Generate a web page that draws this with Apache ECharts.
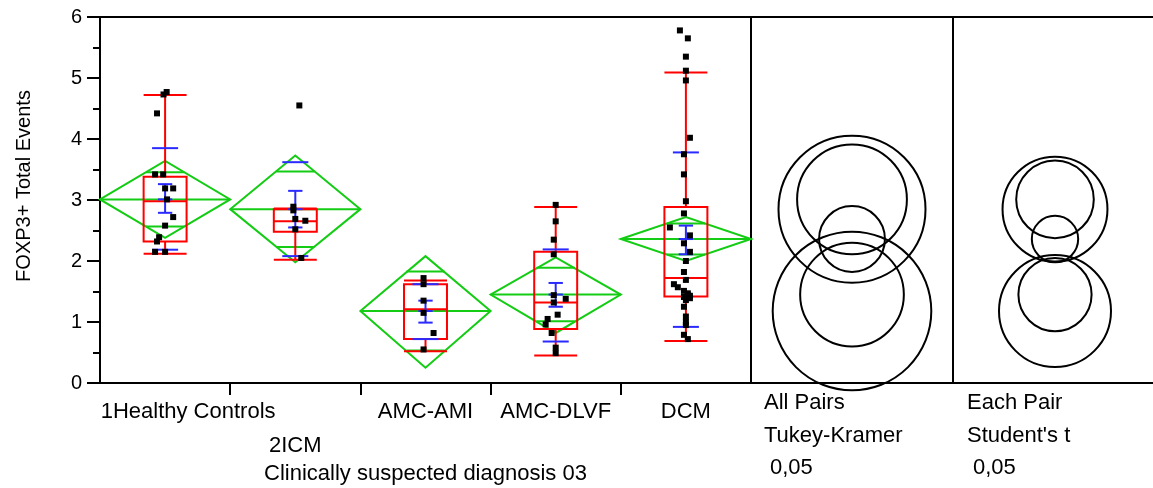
<!DOCTYPE html>
<html>
<head>
<meta charset="utf-8">
<script src="https://cdn.jsdelivr.net/npm/echarts@6/dist/echarts.min.js"></script>
<style>html,body{margin:0;padding:0;background:#fff;}#chart{width:1153px;height:488px;}</style>
</head>
<body>
<div id="chart"></div>
<script>
// ---------- data ----------
const categories = ['1Healthy Controls', '2ICM', 'AMC-AMI', 'AMC-DLVF', 'DCM'];
const yTicks = [0, 1, 2, 3, 4, 5, 6];

// quantile box plot
const whiskerLow  = [2.12, 2.02, 0.52, 0.45, 0.69];
const quartile1   = [2.32, 2.48, 0.72, 0.885, 1.42];
const medians     = [2.98, 2.65, 1.21, 1.32, 1.72];
const quartile3   = [3.38, 2.85, 1.62, 2.15, 2.885];
const whiskerHigh = [4.72, 2.86, 1.68, 2.885, 5.09];

// means diamonds (mean and 95% CI)
const means  = [3.01, 2.85, 1.18, 1.45, 2.36];
const ciLow  = [2.38, 1.98, 0.25, 0.82, 2.00];
const ciHigh = [3.64, 3.73, 2.08, 2.06, 2.72];

// std dev lines and mean error bars
const sdLow  = [2.185, 2.08, 0.72, 0.68, 0.92];
const sdHigh = [3.85, 3.62, 1.62, 2.19, 3.78];
const seLow  = [2.79, 2.55, 0.99, 1.25, 2.11];
const seHigh = [3.26, 3.15, 1.35, 1.64, 2.58];

// observations (value) and their jitter (category units)
const healthyValues = [4.77, 4.73, 4.42, 3.42, 3.42, 3.19, 3.19, 3.01, 2.72, 2.58, 2.39, 2.32, 2.15, 2.15];
const healthyJitter = [0.012, -0.012, -0.062, -0.077, -0.015, 0, 0.062, 0.015, 0.062, 0, -0.046, -0.062, -0.077, 0];
const icmValues = [4.55, 2.89, 2.83, 2.69, 2.66, 2.52, 2.05];
const icmJitter = [0.031, -0.015, -0.015, 0, 0.077, 0, 0.046];
const amiValues = [1.72, 1.62, 1.35, 1.15, 0.82, 0.55];
const amiJitter = [-0.015, -0.015, -0.015, -0.015, 0.062, -0.015];
const dlvfValues = [2.92, 2.65, 2.35, 2.11, 1.44, 1.38, 1.32, 1.12, 1.05, 0.96, 0.82, 0.58, 0.49];
const dlvfJitter = [0, 0, -0.015, -0.015, -0.015, 0.077, -0.015, 0.015, -0.062, -0.077, -0.031, 0, 0];
const dcmValues = [5.78, 5.65, 5.35, 5.12, 4.96, 4.02, 3.75, 3.42, 2.98, 2.78, 2.55, 2.42, 2.29, 2.15, 2.00, 1.82,
                   1.69, 1.62, 1.57, 1.51, 1.47, 1.44, 1.43, 1.41, 1.39, 1.36, 1.25, 1.09, 1.00, 0.95, 0.79, 0.72];
const dcmJitter = [-0.046, 0.015, 0, 0, 0, 0.031, -0.015, -0.015, 0, -0.015, -0.123, 0.031, -0.015, 0.031, 0, -0.015,
                   0, -0.092, -0.062, -0.015, 0.015, 0.015, 0.031, -0.015, 0.031, 0, -0.015, 0, 0, 0, -0.015, 0.015];

// comparison circles radii (y units)
const tukeyRadius   = [0.90, 1.205, 1.30, 0.85, 0.54];
const studentRadius = [0.636, 0.86, 0.918, 0.60, 0.38];

// ---------- styles / layout ----------
const FONT = 'Liberation Sans, Arial, Helvetica, sans-serif';
const RED = '#ff0000', GREEN = '#14cc14', BLUE = '#2a2aff', BLACK = '#000000';
const labelRow = [0, 1, 0, 0, 0];   // staggered category labels (second row for crowded ones)

const groupValues = [healthyValues, icmValues, amiValues, dlvfValues, dcmValues];
const groupJitter = [healthyJitter, icmJitter, amiJitter, dlvfJitter, dcmJitter];
const pointData = [];
groupValues.forEach((vals, i) => vals.forEach((v, k) => pointData.push([i + 0.5 + groupJitter[i][k], v])));

function hline(api, x0, x1, y, color) {
  const a = api.coord([x0, y]), b = api.coord([x1, y]);
  return {type: 'line', shape: {x1: a[0], y1: a[1], x2: b[0], y2: b[1]}, style: {stroke: color, lineWidth: 2}};
}
function vline(api, x, y0, y1, color) {
  const a = api.coord([x, y0]), b = api.coord([x, y1]);
  return {type: 'line', shape: {x1: a[0], y1: a[1], x2: b[0], y2: b[1]}, style: {stroke: color, lineWidth: 2}};
}

function renderDiamond(params, api) {
  const i = api.value(0), m = api.value(1), lo = api.value(2), hi = api.value(3);
  const c = i + 0.5;
  const pts = [api.coord([i, m]), api.coord([c, hi]), api.coord([i + 1, m]), api.coord([c, lo])];
  const d = (hi - lo) / 2 / Math.SQRT2;
  const hw = 0.5 * (1 - 1 / Math.SQRT2);
  return {type: 'group', children: [
    {type: 'polygon', shape: {points: pts}, style: {fill: 'none', stroke: GREEN, lineWidth: 2}},
    hline(api, i, i + 1, m, GREEN),
    hline(api, c - hw, c + hw, m + d, GREEN),
    hline(api, c - hw, c + hw, m - d, GREEN)
  ]};
}

function renderBox(params, api) {
  const i = api.value(0), lo = api.value(1), q1 = api.value(2), med = api.value(3), q3 = api.value(4), hi = api.value(5);
  const c = i + 0.5, hw = 0.165;
  const a = api.coord([c - hw, q3]), b = api.coord([c + hw, q1]);
  return {type: 'group', children: [
    {type: 'rect', shape: {x: a[0], y: a[1], width: b[0] - a[0], height: b[1] - a[1]}, style: {fill: 'none', stroke: RED, lineWidth: 2}},
    hline(api, c - hw, c + hw, med, RED),
    vline(api, c, q3, hi, RED),
    vline(api, c, lo, q1, RED),
    hline(api, c - hw, c + hw, hi, RED),
    hline(api, c - hw, c + hw, lo, RED)
  ]};
}

function renderBlue(params, api) {
  const i = api.value(0), sl = api.value(1), sh = api.value(2), el = api.value(3), eh = api.value(4), m = api.value(5);
  const c = i + 0.5, sw = 0.1, cw = 0.055;
  return {type: 'group', children: [
    hline(api, c - sw, c + sw, sl, BLUE),
    hline(api, c - sw, c + sw, sh, BLUE),
    vline(api, c, el, eh, BLUE),
    hline(api, c - cw, c + cw, el, BLUE),
    hline(api, c - cw, c + cw, eh, BLUE),
    hline(api, c - cw, c + cw, m, BLUE)
  ]};
}

function renderCircle(params, api) {
  const ctr = api.coord([0.5, api.value(0)]);
  const r = api.size([0, api.value(1)])[1];
  return {type: 'circle', shape: {cx: ctr[0], cy: ctr[1], r: r}, style: {fill: 'none', stroke: BLACK, lineWidth: 2}};
}

const chart = echarts.init(document.getElementById('chart'), null, {renderer: 'canvas'});
const gridBase = {show: true, borderColor: BLACK, borderWidth: 2, backgroundColor: 'transparent',
                  containLabel: false, outerBoundsMode: 'none'};
const hiddenAxis = {show: false};
const catLabel = v => categories[Math.floor(v)];
const row0 = categories.map((c, i) => i + 0.5).filter((v, i) => labelRow[i] === 0);
const row1 = categories.map((c, i) => i + 0.5).filter((v, i) => labelRow[i] === 1);

chart.setOption({
  animation: false,
  backgroundColor: '#ffffff',
  textStyle: {fontFamily: FONT},
  grid: [
    Object.assign({left: 100, top: 17, width: 651, height: 366}, gridBase),
    Object.assign({left: 751, top: 17, width: 202, height: 366}, gridBase),
    Object.assign({left: 953, top: 17, width: 204, height: 366}, gridBase)
  ],
  xAxis: [
    {
      type: 'value', gridIndex: 0, min: 0, max: categories.length, position: 'bottom',
      axisLine: {show: true, lineStyle: {color: BLACK, width: 2}},
      axisTick: {show: true, customValues: [1, 2, 3, 4], length: 12, lineStyle: {color: BLACK, width: 2}},
      splitLine: {show: false},
      axisLabel: {
        customValues: row0,
        color: BLACK, fontSize: 22, fontFamily: FONT, lineHeight: 34, margin: 12,
        hideOverlap: false, showMinLabel: true, showMaxLabel: true,
        formatter: function (v) {
          return Math.floor(v) === 0 ? '{shift|' + catLabel(v) + '}' : catLabel(v);
        },
        rich: {shift: {padding: [0, 0, 0, 46], fontSize: 22, fontFamily: FONT, color: BLACK, lineHeight: 34}}
      },
      name: 'Clinically suspected diagnosis 03', nameLocation: 'middle', nameGap: 80,
      nameTextStyle: {color: BLACK, fontSize: 22, fontFamily: FONT}
    },
    Object.assign({type: 'value', gridIndex: 1, min: 0, max: 1}, hiddenAxis),
    Object.assign({type: 'value', gridIndex: 2, min: 0, max: 1}, hiddenAxis),
    {
      type: 'value', gridIndex: 0, min: 0, max: categories.length, position: 'bottom', offset: 0,
      axisLine: {show: false}, axisTick: {show: false}, splitLine: {show: false},
      axisLabel: {
        customValues: row1, color: BLACK, fontSize: 22, fontFamily: FONT, lineHeight: 34, margin: 46,
        hideOverlap: false, showMinLabel: true, showMaxLabel: true, formatter: catLabel
      }
    }
  ],
  yAxis: [
    {
      type: 'value', gridIndex: 0, min: yTicks[0], max: yTicks[yTicks.length - 1], interval: 1,
      axisLine: {show: true, lineStyle: {color: BLACK, width: 2}},
      axisTick: {show: true, length: 13, lineStyle: {color: BLACK, width: 2}},
      minorTick: {show: true, splitNumber: 2, length: 7, lineStyle: {color: BLACK, width: 2}},
      splitLine: {show: false}, minorSplitLine: {show: false},
      axisLabel: {color: BLACK, fontSize: 20, fontFamily: FONT, margin: 18, showMinLabel: true, showMaxLabel: true},
      name: 'FOXP3+ Total Events', nameLocation: 'middle', nameGap: 66,
      nameTextStyle: {color: BLACK, fontSize: 20, fontFamily: FONT, padding: [0, 0, 0, 28]}
    },
    Object.assign({type: 'value', gridIndex: 1, min: 0, max: 6}, hiddenAxis),
    Object.assign({type: 'value', gridIndex: 2, min: 0, max: 6}, hiddenAxis)
  ],
  graphic: [
    {type: 'text', x: 764, y: 403, style: {text: 'All Pairs', fontSize: 22, fontFamily: FONT, fill: BLACK, verticalAlign: 'middle'}},
    {type: 'text', x: 764, y: 436, style: {text: 'Tukey-Kramer', fontSize: 22, fontFamily: FONT, fill: BLACK, verticalAlign: 'middle'}},
    {type: 'text', x: 770, y: 468, style: {text: '0,05', fontSize: 22, fontFamily: FONT, fill: BLACK, verticalAlign: 'middle'}},
    {type: 'text', x: 967, y: 403, style: {text: 'Each Pair', fontSize: 22, fontFamily: FONT, fill: BLACK, verticalAlign: 'middle'}},
    {type: 'text', x: 967, y: 436, style: {text: "Student's t", fontSize: 22, fontFamily: FONT, fill: BLACK, verticalAlign: 'middle'}},
    {type: 'text', x: 973, y: 468, style: {text: '0,05', fontSize: 22, fontFamily: FONT, fill: BLACK, verticalAlign: 'middle'}}
  ],
  series: [
    {type: 'custom', name: 'Means diamonds', xAxisIndex: 0, yAxisIndex: 0, z: 2, clip: false, silent: true,
     renderItem: renderDiamond, data: categories.map((c, i) => [i, means[i], ciLow[i], ciHigh[i]])},
    {type: 'custom', name: 'Quantiles', xAxisIndex: 0, yAxisIndex: 0, z: 3, clip: false, silent: true,
     renderItem: renderBox, data: categories.map((c, i) => [i, whiskerLow[i], quartile1[i], medians[i], quartile3[i], whiskerHigh[i]])},
    {type: 'custom', name: 'Std dev / error', xAxisIndex: 0, yAxisIndex: 0, z: 4, clip: false, silent: true,
     renderItem: renderBlue, data: categories.map((c, i) => [i, sdLow[i], sdHigh[i], seLow[i], seHigh[i], means[i]])},
    {type: 'scatter', name: 'Observations', xAxisIndex: 0, yAxisIndex: 0, z: 5, silent: true,
     symbol: 'rect', symbolSize: 6, itemStyle: {color: BLACK, opacity: 1}, data: pointData},
    {type: 'custom', name: 'Tukey-Kramer circles', xAxisIndex: 1, yAxisIndex: 1, z: 3, clip: false, silent: true,
     renderItem: renderCircle, data: means.map((m, i) => [m, tukeyRadius[i]])},
    {type: 'custom', name: "Student's t circles", xAxisIndex: 2, yAxisIndex: 2, z: 3, clip: false, silent: true,
     renderItem: renderCircle, data: means.map((m, i) => [m, studentRadius[i]])}
  ]
});
</script>
</body>
</html>
